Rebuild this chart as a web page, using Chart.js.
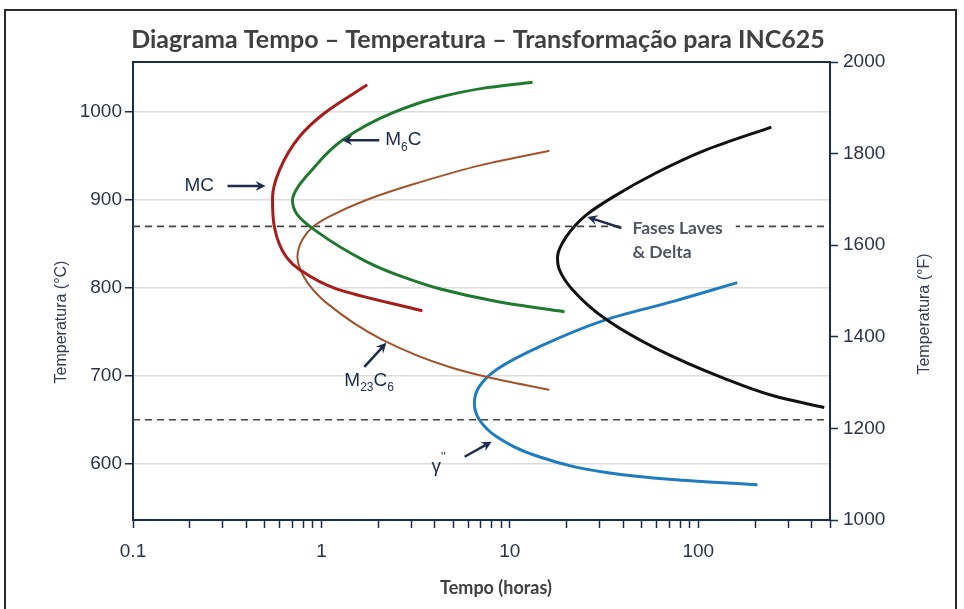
<!DOCTYPE html>
<html>
<head>
<meta charset="utf-8">
<title>Diagrama TTT INC625</title>
<script src="https://cdn.jsdelivr.net/npm/chart.js@4.4.1/dist/chart.umd.min.js"></script>
<style>
  html, body { margin: 0; padding: 0; background: #fff; }
  canvas { display: block; }
</style>
</head>
<body>
<canvas id="ttt" width="964" height="609"></canvas>
<script>
// C-curves: time (h) and temperature (°C), top end to bottom end
var mcTime = [1.75, 1.04, 0.764, 0.599, 0.550, 0.563, 0.652, 0.764, 1.20, 3.43];
var mcTemp = [1031, 999, 972, 934, 902, 869, 835, 821, 799, 774];

var m6cTime = [13.2, 7.15, 4.07, 2.38, 1.29, 0.864, 0.746, 0.702, 0.746, 0.918, 1.73, 2.59, 4.23, 8.80, 19.5];
var m6cTemp = [1034, 1027, 1016, 999, 968, 931, 914, 900, 883, 866, 830, 814, 799, 784, 773];

var m23c6Time = [16.2, 7.14, 3.19, 1.73, 1.10, 0.896, 0.793, 0.746, 0.764, 0.843, 1.063, 2.11, 4.78, 7.79, 16.2];
var m23c6Temp = [956, 940, 919, 900, 881, 869, 855, 835, 824, 806, 783, 741, 710, 698, 684];

var lavesTime = [244, 110, 59.9, 35.0, 25.1, 19.9, 17.9, 18.3, 21.5, 32.5, 59.9, 134, 253, 466];
var lavesTemp = [983, 957, 931, 903, 882, 858, 835, 821, 798, 764, 731, 698, 677, 664];

var gammaTime = [161, 74.6, 32.5, 14.3, 8.48, 6.89, 6.48, 6.89, 8.48, 14.3, 32.5, 72.8, 206];
var gammaTemp = [806, 785, 764, 733, 707, 688, 669, 650, 631, 608, 590, 582, 576];

// horizontal reference temperatures (°C)
var refTemps = [870, 650];

// axes
var xMin = 0.1, xMax = 500;
var xTickLabels = [0.1, 1, 10, 100];
var yMinC = 536, yMaxC = 1057;
var yTicksC = [600, 700, 800, 900, 1000];
var yTicksF = [1000, 1200, 1400, 1600, 1800, 2000];

var NAVY = '#1d2b4c';
var TICK_TXT = '#2b3346';
var GREY_TXT = '#404040';
var SANS = '"Liberation Sans", Arial, sans-serif';
var CAL = 'Lato, "Open Sans", sans-serif';

function pts(times, temps) {
  return times.map(function (t, i) { return { x: t, y: temps[i] }; });
}

// temperature falls steadily along every curve, so interpolate against y
function curve(label, times, temps, color, width) {
  return {
    label: label,
    data: pts(times, temps),
    indexAxis: 'y',
    borderColor: color,
    borderWidth: width,
    showLine: true,
    pointRadius: 0,
    cubicInterpolationMode: 'monotone',
    fill: false,
    order: 1
  };
}

var datasets = [
  curve('MC', mcTime, mcTemp, '#a81c1c', 3),
  curve('M6C', m6cTime, m6cTemp, '#1f7a30', 3),
  curve('M23C6', m23c6Time, m23c6Temp, '#a3532c', 2),
  curve('Laves/Delta', lavesTime, lavesTemp, '#111111', 3),
  curve("γ''", gammaTime, gammaTemp, '#1f7cbf', 3)
];
refTemps.forEach(function (t) {
  datasets.push({
    label: 'ref ' + t,
    data: [{ x: xMin, y: t }, { x: xMax, y: t }],
    borderColor: '#444',
    borderWidth: 1.6,
    borderDash: [7, 5],
    showLine: true,
    pointRadius: 0,
    order: 5
  });
});

// labels with arrows; tip is on the curve (data units), offsets in px
var notes = [
  { tip: [0.505, 916], tail: [-38, 0], text: [-81, 0], parts: [{ t: 'MC' }] },
  { tip: [1.29, 968], tail: [37, 0], text: [43, 0], parts: [{ t: 'M' }, { t: '6', sub: true }, { t: 'C' }] },
  { tip: [2.21, 737.5], tail: [-22, 24], text: [-42, 38], parts: [{ t: 'M' }, { t: '23', sub: true }, { t: 'C' }, { t: '6', sub: true }] },
  { tip: [8.0, 625], tail: [-27, 15], text: [-60, 25], parts: [{ t: 'γ' }, { t: "''", sup: true }] },
  { tip: [25.8, 880.7], tail: [34, 11], lines: ['Fases Laves', '& Delta'], text: [45, 11] }
];

function arrow(ctx, x1, y1, x2, y2) {
  var a = Math.atan2(y2 - y1, x2 - x1), h = 10, w = 5;
  var c = Math.cos(a), s = Math.sin(a);
  ctx.beginPath();
  ctx.moveTo(x1, y1);
  ctx.lineTo(x2 - c * h * 0.6, y2 - s * h * 0.6);
  ctx.stroke();
  ctx.beginPath();
  ctx.moveTo(x2, y2);
  ctx.lineTo(x2 - c * h + s * w, y2 - s * h - c * w);
  ctx.lineTo(x2 - c * h * 0.65, y2 - s * h * 0.65);
  ctx.lineTo(x2 - c * h - s * w, y2 - s * h + c * w);
  ctx.closePath();
  ctx.fill();
}

function richText(ctx, x, y, parts) {
  parts.forEach(function (p) {
    var size = (p.sub || p.sup) ? 12 : 19;
    var dy = p.sub ? 7 : (p.sup ? -9 : 0);
    ctx.font = size + 'px ' + SANS;
    ctx.fillText(p.t, x, y + dy);
    x += ctx.measureText(p.t).width;
  });
}

var decor = {
  id: 'decor',
  beforeDraw: function (chart) {
    var ctx = chart.ctx;
    ctx.save();
    ctx.strokeStyle = '#2a2a2a';
    ctx.lineWidth = 2;
    ctx.beginPath();
    ctx.moveTo(5, 609);
    ctx.lineTo(5, 10);
    ctx.lineTo(956, 10);
    ctx.lineTo(956, 609);
    ctx.stroke();
    ctx.restore();
  },
  afterDatasetsDraw: function (chart) {
    var ctx = chart.ctx, xs = chart.scales.x, ys = chart.scales.y;
    ctx.save();
    ctx.fillStyle = NAVY;
    ctx.strokeStyle = NAVY;
    ctx.lineWidth = 2.5;
    ctx.textBaseline = 'middle';
    notes.forEach(function (n) {
      var px = xs.getPixelForValue(n.tip[0]);
      var py = ys.getPixelForValue(n.tip[1]);
      var tx = px + n.text[0], ty = py + n.text[1];
      if (n.lines) {
        ctx.font = 'bold 17.5px ' + CAL;
        var wMax = Math.max.apply(null, n.lines.map(function (l) { return ctx.measureText(l).width; }));
        ctx.fillStyle = '#fff';
        ctx.fillRect(px + n.tail[0] + 2, ty - 9, wMax + 22, 18);
        ctx.fillStyle = '#50555f';
        n.lines.forEach(function (l, i) { ctx.fillText(l, tx, ty + i * 24); });
        ctx.fillStyle = NAVY;
      } else {
        richText(ctx, tx, ty, n.parts);
      }
      arrow(ctx, px + n.tail[0], py + n.tail[1], px, py);
    });
    ctx.restore();
  },
  afterDraw: function (chart) {
    var ctx = chart.ctx, a = chart.chartArea;
    ctx.save();
    // top edge of the plot box
    ctx.strokeStyle = NAVY;
    ctx.lineWidth = 2;
    ctx.beginPath();
    ctx.moveTo(a.left, a.top);
    ctx.lineTo(a.right, a.top);
    ctx.stroke();

    ctx.fillStyle = GREY_TXT;
    ctx.textAlign = 'center';
    ctx.textBaseline = 'alphabetic';
    ctx.font = 'bold 25px ' + CAL;
    ctx.fillText('Diagrama Tempo – Temperatura – Transformação para INC625', 478, 48);

    ctx.textBaseline = 'middle';
    ctx.font = 'bold 18px ' + CAL;
    ctx.fillText('Tempo (horas)', 496, 588);

    ctx.fillStyle = '#333c4e';
    ctx.font = '16px ' + SANS;
    [[62, 322], [925, 314]].forEach(function (p, i) {
      ctx.save();
      ctx.translate(p[0], p[1]);
      ctx.rotate(-Math.PI / 2);
      ctx.fillText(i ? 'Temperatura (°F)' : 'Temperatura (°C)', 0, 0);
      ctx.restore();
    });
    ctx.restore();
  }
};

function plain(v) { return String(v); }

new Chart(document.getElementById('ttt').getContext('2d'), {
  type: 'scatter',
  data: { datasets: datasets },
  options: {
    responsive: false,
    animation: false,
    events: [],
    layout: { padding: { top: 62, left: 0, right: 0, bottom: 0 } },
    plugins: { legend: { display: false }, tooltip: { enabled: false } },
    scales: {
      x: {
        type: 'logarithmic',
        position: 'bottom',
        min: xMin,
        max: xMax,
        afterBuildTicks: function (s) {
          var v = [];
          for (var d = 0.1; d < xMax; d *= 10) {
            for (var k = 1; k <= 9; k++) {
              var val = +(d * k).toPrecision(3);
              if (val <= xMax) v.push({ value: val });
            }
          }
          s.ticks = v;
        },
        afterFit: function (s) { s.height = 89; },
        ticks: {
          autoSkip: false,
          maxRotation: 0,
          padding: 12,
          color: TICK_TXT,
          font: { family: SANS, size: 19 },
          callback: function (v) { return xTickLabels.indexOf(v) >= 0 ? String(v) : ''; }
        },
        grid: { drawOnChartArea: false, tickLength: 8, tickColor: NAVY, tickWidth: 1.5 },
        border: { color: NAVY, width: 2 }
      },
      y: {
        type: 'linear',
        position: 'left',
        min: yMinC,
        max: yMaxC,
        afterBuildTicks: function (s) { s.ticks = yTicksC.map(function (v) { return { value: v }; }); },
        afterFit: function (s) { s.width = 133; },
        ticks: { padding: 3, color: TICK_TXT, font: { family: SANS, size: 19 }, callback: plain },
        grid: { color: '#dcdcdc', lineWidth: 1.5, tickColor: NAVY, tickLength: 8, tickWidth: 1.5 },
        border: { color: NAVY, width: 2 }
      },
      y2: {
        type: 'linear',
        position: 'right',
        min: 1000,
        max: 2000,
        afterBuildTicks: function (s) { s.ticks = yTicksF.map(function (v) { return { value: v }; }); },
        afterFit: function (s) { s.width = 134; },
        ticks: { padding: 5, color: TICK_TXT, font: { family: SANS, size: 19 }, callback: plain },
        grid: { drawOnChartArea: false, tickColor: NAVY, tickLength: 8, tickWidth: 1.5 },
        border: { color: NAVY, width: 2 }
      }
    }
  },
  plugins: [decor]
});
</script>
</body>
</html>
